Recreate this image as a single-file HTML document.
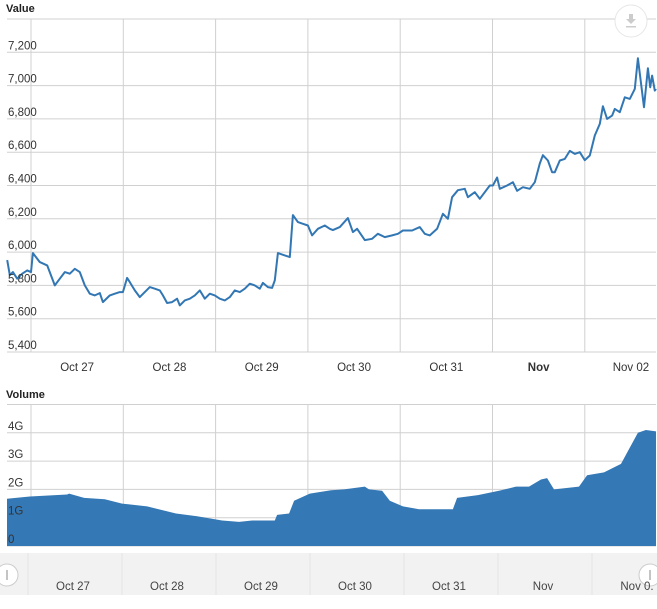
<!DOCTYPE html>
<html><head><meta charset="utf-8"><style>
html,body{margin:0;padding:0;background:#fff;}
svg text{font-family:"Liberation Sans","DejaVu Sans",sans-serif;}
</style></head><body>
<svg id="chart" width="657" height="604" xmlns="http://www.w3.org/2000/svg">
<g id="grid"></g>
<g id="marks"></g>
<g id="labels"></g>
<text x="6" y="12" font-size="11" font-weight="bold" fill="#222">Value</text>
<text x="6" y="398" font-size="11" font-weight="bold" fill="#222">Volume</text>
<g>
<circle cx="631" cy="21" r="16" fill="#fff" stroke="#e6e6e6" stroke-width="1"/>
<rect x="629" y="14" width="4" height="6" fill="#ccc"/>
<path d="M626 19 L636 19 L631 24 Z" fill="#ccc"/>
<rect x="626" y="26" width="10" height="1.5" fill="#ccc"/>
</g>
</svg>
<script>
const priceHours=[-6.2,-5.5,-4.7,-3.6,-2.3,-1.0,0,0.5,2.3,4.2,5.7,6.2,7.5,8.8,10.1,11.4,12.7,14.0,15.3,16.6,17.9,18.7,20.5,21.8,23.1,23.9,25.0,25.7,27.0,28.3,29.6,30.9,32.2,33.5,34.3,35.4,36.7,38.0,38.7,40.0,41.3,42.6,43.9,45.2,46.5,47.8,49.1,50.4,51.7,53.0,54.3,55.6,56.9,58.2,59.5,60.3,61.6,62.7,63.4,64.2,66.0,67.3,68.1,69.4,70.7,72.0,73.1,74.6,76.4,77.7,78.5,80.3,82.4,83.7,84.8,86.8,88.7,90.2,92.0,93.9,95.4,96.7,99.1,101.1,102.4,103.7,105.6,107.1,108.4,109.5,111.0,112.8,113.6,115.4,116.7,119.3,120.1,121.2,121.9,123.8,125.3,126.4,127.9,129.7,131.0,132.3,133.1,134.4,135.5,136.2,137.5,138.8,140.1,141.4,142.7,144.0,145.3,146.6,147.9,148.7,149.8,151.1,151.8,153.1,154.4,155.7,157.0,157.8,159.4,160.4,161.0,161.5,162.2,162.8];
const priceValues=[5952,5862,5880,5840,5870,5890,5880,5994,5940,5920,5830,5800,5840,5880,5870,5900,5880,5800,5750,5740,5754,5700,5740,5750,5760,5760,5845,5820,5770,5730,5760,5790,5780,5770,5740,5694,5700,5720,5680,5710,5720,5740,5770,5720,5750,5740,5720,5710,5730,5770,5760,5780,5810,5800,5780,5815,5790,5785,5830,5994,5980,5970,6222,6180,6170,6160,6100,6140,6160,6140,6132,6150,6204,6120,6140,6072,6080,6110,6090,6100,6110,6130,6130,6150,6110,6100,6140,6230,6200,6330,6372,6380,6330,6360,6320,6400,6400,6448,6380,6400,6420,6368,6390,6380,6420,6532,6582,6550,6480,6480,6550,6560,6608,6590,6600,6552,6580,6700,6770,6876,6800,6820,6860,6840,6930,6920,6980,7164,6870,7104,6990,7060,6970,6980];
const volHours=[-6.5,-0.3,9.4,9.9,13.8,19.2,23.7,30.2,37.7,43.2,49.7,54.1,57.5,63.4,64.0,67.1,68.4,72.5,78.0,81.4,86.8,87.9,91.3,93.3,96.7,100.9,109.7,110.8,116.2,121.7,126.1,129.5,132.6,134.2,136.0,142.5,144.6,149.0,153.4,155.0,157.8,159.9,162.8];
const volValues=[1.67,1.75,1.82,1.85,1.7,1.65,1.5,1.4,1.15,1.05,0.9,0.85,0.9,0.9,1.1,1.15,1.6,1.85,1.97,2.0,2.1,2.0,1.95,1.6,1.4,1.3,1.3,1.7,1.8,1.95,2.1,2.1,2.35,2.4,2.0,2.1,2.5,2.6,2.9,3.3,4.0,4.1,4.05];
const priceTicks=[5400,5600,5800,6000,6200,6400,6600,6800,7000,7200,7400];
const priceTickLabels=["5,400","5,600","5,800","6,000","6,200","6,400","6,600","6,800","7,000","7,200",""];
const volTicks=[0,1,2,3,4,5];
const volTickLabels=["0","1G","2G","3G","4G",""];
const dayLabels=["Oct 27","Oct 28","Oct 29","Oct 30","Oct 31","Nov","Nov 02"];
const navLabels=["Oct 27","Oct 28","Oct 29","Oct 30","Oct 31","Nov","Nov 0."];

const NS="http://www.w3.org/2000/svg";
const X0=7,X1=656;
const x=h=>31+h*92.3/24;
const yP=v=>352-(v-5400)*(333/2000);
const yV=v=>546-v*28.3;
const grid=document.getElementById('grid'),marks=document.getElementById('marks'),labels=document.getElementById('labels');
function mk(tag,attrs,parent){const e=document.createElementNS(NS,tag);for(const k in attrs)e.setAttribute(k,attrs[k]);parent.appendChild(e);return e;}

const nb=mk('rect',{x:0,y:553,width:657,height:42,fill:'#f2f2f2'},grid);



priceTicks.forEach((t,i)=>{
  const l=mk('line',{x1:X0,x2:X1,y1:yP(t),y2:yP(t),stroke:'#d0d0d0','stroke-width':1},grid);
  
  
  if(priceTickLabels[i]){const tx=mk('text',{x:8,y:yP(t)-3,'font-size':11.5,fill:'#333'},labels);tx.textContent=priceTickLabels[i];
  
  }
});
volTicks.forEach((t,i)=>{
  const l=mk('line',{x1:X0,x2:X1,y1:yV(t),y2:yV(t),stroke:'#d0d0d0','stroke-width':1},grid);
  
  
});
for(let d=0;d<7;d++){
  const gx=x(d*24);
  const a=mk('line',{x1:gx,x2:gx,y1:19,y2:352,stroke:'#d0d0d0'},grid);
  
  
  const b=mk('line',{x1:gx,x2:gx,y1:405,y2:546,stroke:'#d0d0d0'},grid);
  
  
  const c=mk('line',{x1:28+d*94,x2:28+d*94,y1:553,y2:595,stroke:'#e4e4e4'},grid);
  
  
  const t=mk('text',{x:x(d*24+12),y:371,'font-size':11.5,fill:'#333','text-anchor':'middle','font-weight':d==5?'bold':'normal'},labels);
  t.textContent=dayLabels[d];
  
  
  const n=mk('text',{x:73+d*94,y:590,'font-size':11.5,fill:'#444','text-anchor':'middle'},labels);
  n.textContent=navLabels[d];
  
  
}
let vd='M'+X0+' '+yV(0);
volHours.forEach((h,i)=>{const px=Math.max(X0,Math.min(X1,x(h)));vd+=' L'+px.toFixed(1)+' '+yV(volValues[i]).toFixed(1);});
vd+=' L'+X1+' '+yV(0)+' Z';
const va=mk('path',{d:vd,fill:'#3478b5'},marks);


volTickLabels.forEach((s,i)=>{if(!s)return;const t=mk('text',{x:8,y:yV(volTicks[i])-3,'font-size':11.5,fill:'#333'},labels);t.textContent=s;

});
let pd='';
priceHours.forEach((h,i)=>{const px=Math.max(X0,Math.min(X1,x(h)));pd+=(i?' L':'M')+px.toFixed(1)+' '+yP(priceValues[i]).toFixed(1);});
const pl=mk('path',{d:pd,fill:'none',stroke:'#3277b3','stroke-width':2,'stroke-linejoin':'round'},marks);


[[7,575],[650,575]].forEach((p,i)=>{
  const c=mk('circle',{cx:p[0],cy:p[1],r:11,fill:'#fff',stroke:'#ccc'},marks);
  
  
  mk('line',{x1:p[0],x2:p[0],y1:570,y2:580,stroke:'#888'},marks);
});
</script>
</body></html>
